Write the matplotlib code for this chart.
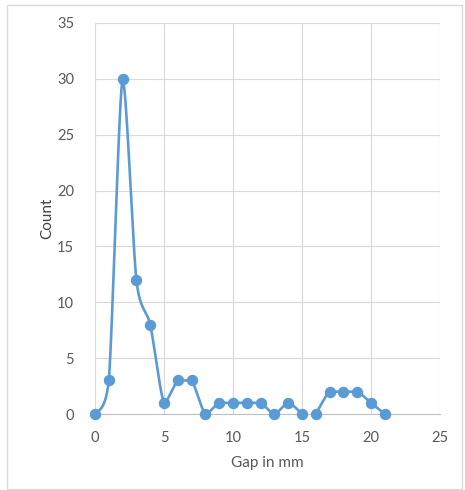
import numpy as np
import matplotlib
matplotlib.use("Agg")
import matplotlib.pyplot as plt
from matplotlib.patches import Rectangle

# Data (two separate segments in the original: 0-15 and 16-21)
gap_a = [0, 1, 2, 3, 4, 5, 6, 7, 8, 9, 10, 11, 12, 13, 14, 15]
count_a = [0, 3, 30, 12, 8, 1, 3, 3, 0, 1, 1, 1, 1, 0, 1, 0]
gap_b = [16, 17, 18, 19, 20, 21]
count_b = [0, 2, 2, 2, 1, 0]

x_ticks = [0, 5, 10, 15, 20, 25]
y_ticks = [0, 5, 10, 15, 20, 25, 30, 35]

LINE = "#5B9BD5"
TEXT = "#595959"
GRID = "#D9D9D9"

plt.rcParams['font.family'] = ['Lato', 'DejaVu Sans']


def smooth(xs, ys, n=30):
    """Bezier rendering of an Excel-style 'smoothed line'."""
    xs = np.asarray(xs, float)
    ys = np.asarray(ys, float)
    px = np.concatenate([[xs[0]], xs, [xs[-1]]])
    py = np.concatenate([[ys[0]], ys, [ys[-1]]])
    outx, outy = [], []
    t = np.linspace(0, 1, n)
    k = 0.13
    for i in range(1, len(px) - 2):
        p0 = np.array([px[i], py[i]])
        p3 = np.array([px[i + 1], py[i + 1]])
        c1 = p0 + k * (np.array([px[i + 1], py[i + 1]]) - np.array([px[i - 1], py[i - 1]]))
        c2 = p3 - k * (np.array([px[i + 2], py[i + 2]]) - np.array([px[i], py[i]]))
        lo, hi = min(p0[1], p3[1]), max(p0[1], p3[1])
        c1[1] = np.clip(c1[1], lo, hi)
        c2[1] = np.clip(c2[1], lo, hi)
        b = ((1 - t) ** 3)[:, None] * p0 + (3 * (1 - t) ** 2 * t)[:, None] * c1 \
            + (3 * (1 - t) * t ** 2)[:, None] * c2 + (t ** 3)[:, None] * p3
        outx.extend(b[:, 0])
        outy.extend(b[:, 1])
    return outx, outy


fig = plt.figure(figsize=(4.65, 4.9), dpi=100)
fig.patches.append(Rectangle((7 / 465, 1 / 490), 455 / 465, 484 / 490, transform=fig.transFigure,
                             fill=False, edgecolor="#D9D9D9", linewidth=1.0))
ax = fig.add_axes([95 / 465, 1 - 414 / 490, 345 / 465, 391 / 490])

for gx, gy in [(gap_a, count_a), (gap_b, count_b)]:
    sx, sy = smooth(gx, gy)
    ax.plot(sx, sy, color=LINE, linewidth=1.9, solid_capstyle='round', zorder=3, clip_on=False)
    ax.plot(gx, gy, linestyle='none', marker='o', markersize=7.2, color=LINE, zorder=4, clip_on=False)

ax.set_xlim(0, 25)
ax.set_ylim(0, 35)
ax.set_xticks(x_ticks)
ax.set_yticks(y_ticks)
ax.grid(True, color=GRID, linewidth=0.8)
ax.set_axisbelow(True)
for s in ['left', 'right', 'top']:
    ax.spines[s].set_visible(False)
ax.spines['bottom'].set_color("#BFBFBF")
ax.spines['bottom'].set_linewidth(0.8)
ax.tick_params(axis='y', length=0, labelsize=10.5, colors=TEXT, pad=15)
ax.tick_params(axis='x', length=0, labelsize=10.5, colors=TEXT, pad=12)
ax.set_xlabel("Gap in mm", fontsize=11, color=TEXT, labelpad=8)
ax.set_ylabel("Count", fontsize=11, color="#404040", labelpad=2)
for t in ax.get_xticklabels() + ax.get_yticklabels():
    t.set_color(TEXT)

fig.savefig("out.png", dpi=100)
